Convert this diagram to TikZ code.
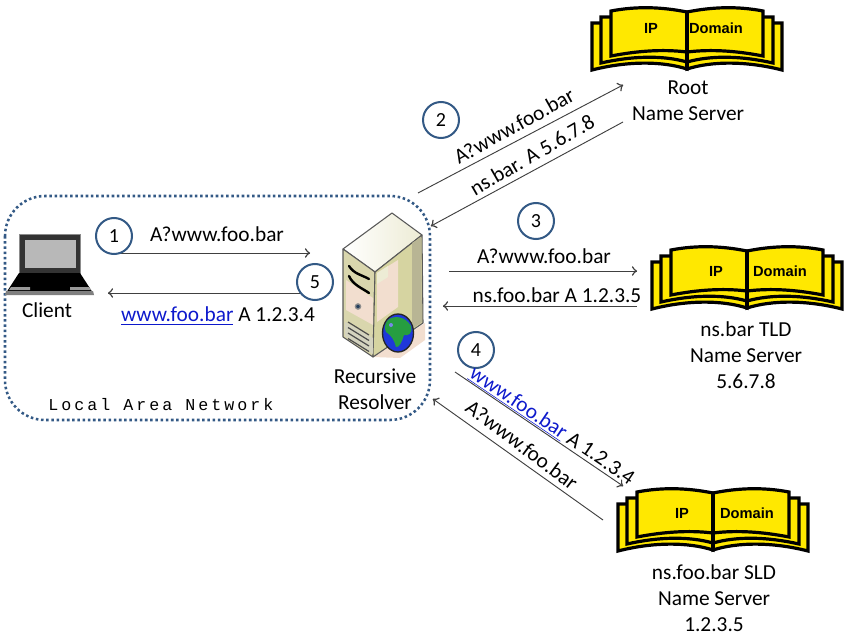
\documentclass[tikz,border=0pt]{standalone}
\usepackage{fontspec}
\setmainfont{Carlito}
\setmonofont{Liberation Mono}
\setsansfont{Liberation Sans}
\usetikzlibrary{arrows}
\usetikzlibrary{decorations.markings}
\tikzset{->/.style = {decoration={markings,
                                  mark=at position 1 with {\arrow[scale=1.6]{to}}},
                      postaction={decorate}}}
\definecolor{mnavy}{rgb}{0.2, 0.35, 0.52}
\definecolor{mlink}{rgb}{0.05, 0.1, 0.8}
\definecolor{myellow}{rgb}{1, 0.91, 0}
\definecolor{mcream}{rgb}{0.85, 0.84, 0.68}
\definecolor{mpink}{rgb}{0.95, 0.87, 0.81}
\definecolor{molive}{rgb}{0.84, 0.83, 0.63}
\definecolor{mgrey}{rgb}{0.72, 0.71, 0.58}
\definecolor{mglobe}{rgb}{0.12, 0.22, 0.85}
\definecolor{mland}{rgb}{0.15, 0.62, 0.25}
\tikzset{caption/.style = {align=center, font=\fontsize{16}{19.5}\selectfont}}
\tikzset{msg/.style = {font=\fontsize{16}{19}\selectfont}}
\tikzset{flow/.style = {draw=black!75, line width=0.7pt}}
\tikzset{stepmark/.style = {circle, draw=mnavy, fill=white, line width=1.5pt, minimum size=27pt, inner sep=0pt, font=\fontsize{15}{18}\selectfont}}
\tikzset{leaf/.style = {draw=black, fill=myellow, line width=2.4pt}}
\tikzset{booktext/.style = {font=\fontsize{11}{12}\selectfont\sffamily\bfseries}}
\tikzset{shell/.style = {draw=black!65, line width=0.8pt, line join=round}}
\tikzset{book/.pic = {
    \foreach \s in {-1, 1} {
      \begin{scope}[xscale=\s]
        \filldraw [leaf] (0, 0) .. controls (-25, -8) and (-60, -8) .. (-95, 1) -- (-95, -46) -- (0, -46) -- cycle;
        \filldraw [leaf] (0, -7) .. controls (-25, -14) and (-55, -13) .. (-86, -6) -- (-86, -52) -- (0, -52) -- cycle;
        \filldraw [leaf] (0, -17) .. controls (-25, -20) and (-50, -18) .. (-76, -13) -- (-76, -58) .. controls (-50, -63) and (-25, -62) .. (0, -57) -- cycle;
      \end{scope}
    }
    \draw [black, line width=2.6pt] (0, -58) -- (0, 0);
  }}

\begin{document}
\begin{tikzpicture}[x=0.75pt, y=-0.75pt]
      \useasboundingbox (0, 0) rectangle (850, 638);

      \draw [mnavy, line width=1.9pt, dotted, rounded corners=30pt] (5, 196) rectangle (430, 420);
      \node [font=\fontsize{12.5}{14}\selectfont\ttfamily, inner sep=0pt] (lan) at (161, 405) {\addfontfeature{LetterSpace=18}Local Area Network};

      % laptop
      \filldraw [fill=black!80, draw=black!45, line width=0.6pt] (19, 234) -- (80, 234) -- (80, 273) -- (19, 273) -- cycle;
      \fill [black!28] (25, 240) rectangle (76, 268);
      \fill [black] (19, 273) -- (80, 273) -- (93, 293) -- (6, 293) -- cycle;
      \fill [black!50] (6, 291) -- (93, 291) -- (94, 295) -- (5, 295) -- cycle;
      \fill [black!40] (11, 287) -- (30, 287) -- (30, 290) -- (9, 290) -- cycle;
      \fill [black!40] (70, 287) -- (89, 287) -- (91, 290) -- (70, 290) -- cycle;
      \node [caption] (client) at (47, 310) {Client};

      % server
      \fill [mpink] (373, 357) -- (425, 323) -- (425, 340) -- (400, 358) -- cycle;
      \shade [shell, left color=white, right color=molive!45] (343, 249) -- (392, 213) -- (422, 235) -- (375, 272) -- cycle;
      \filldraw [shell, fill=mcream] (343, 249) -- (375, 272) -- (373, 357) -- (343, 337) -- cycle;
      \filldraw [shell, fill=molive] (375, 272) -- (422, 235) -- (423, 323) -- (373, 357) -- cycle;
      \fill [mpink] (377, 273) -- (398, 260) -- (398, 307) -- (377, 322) -- cycle;
      \fill [molive!45] (377, 273) -- (388, 266) -- (388, 277) -- (377, 284) -- cycle;
      \fill [mgrey] (412, 243) -- (421, 237) -- (422, 322) -- (412, 329) -- cycle;
      \fill [mpink] (346, 280) -- (373, 298) -- (373, 325) -- (346, 310) -- cycle;
      \fill [mgrey!60] (345, 322) -- (373, 338) -- (373, 354) -- (345, 336) -- cycle;
      \draw [black, line width=1.8pt, line cap=round] (349, 266) .. controls (354, 274) and (362, 275) .. (369, 279);
      \draw [black, line width=1.8pt, line cap=round] (349, 276) .. controls (353, 285) and (362, 288) .. (369, 293);
      \filldraw [fill=mnavy!70!black, draw=black!45, line width=1pt] (358, 306.5) circle (2.6);
      \foreach \k in {0, 1, 2, 3} {
        \draw [black!70, line width=0.9pt] (348, 322 + 5.5 * \k) -- (369, 335 + 5.5 * \k);
      }
      \filldraw [fill=mglobe, draw=black!85, line width=1pt] (398, 333) ellipse (15.5 and 19);
      \fill [mland] (388, 320) .. controls (394, 315) and (405, 316) .. (411, 326) .. controls (413, 334) and (408, 336) .. (404, 335) .. controls (402, 342) and (399, 348) .. (396, 347) .. controls (394, 340) and (392, 336) .. (386, 332) .. controls (384, 328) and (385, 323) .. (388, 320);
      \fill [mglobe!60!white] (391, 325) circle (2);
      \node [caption] (resolver) at (375, 389) {Recursive\\Resolver};

      % name servers
      \pic (root) at (687, 69) {book};
      \node [booktext] (rootip) at (651, 28) {IP};
      \node [booktext] (rootdomain) at (716, 28) {Domain};
      \node [caption] (rootname) at (688, 101) {Root\\Name Server};
      \pic (tld) at (747, 308) {book};
      \node [booktext] (tldip) at (716, 271) {IP};
      \node [booktext] (tlddomain) at (780, 271) {Domain};
      \node [caption] (tldname) at (746, 355) {ns.bar TLD\\Name Server\\5.6.7.8};
      \pic (sld) at (713, 550) {book};
      \node [booktext] (sldip) at (682, 513) {IP};
      \node [booktext] (slddomain) at (747, 513) {Domain};
      \node [caption] (sldname) at (714, 598) {ns.foo.bar SLD\\Name Server\\1.2.3.5};

      % arrow ends
      \coordinate (a1) at (120, 253);
      \coordinate (b1) at (310, 253);
      \coordinate (a5) at (316, 293);
      \coordinate (b5) at (108, 293);
      \coordinate (a2) at (418, 193);
      \coordinate (b2) at (623, 85);
      \coordinate (c2) at (623, 122);
      \coordinate (d2) at (431, 226);
      \coordinate (a3) at (449, 271);
      \coordinate (b3) at (637, 271);
      \coordinate (c3) at (637, 306);
      \coordinate (d3) at (443, 306);
      \coordinate (a4) at (455, 372);
      \coordinate (b4) at (623, 486);
      \coordinate (c4) at (603, 520);
      \coordinate (d4) at (433, 399);

      \draw [flow, ->] (a1) -- (b1);
      \draw [flow, ->] (a5) -- (b5);
      \draw [flow, ->] (a2) -- (b2);
      \draw [flow, ->] (c2) -- (d2);
      \draw [flow, ->] (a3) -- (b3);
      \draw [flow, ->] (c3) -- (d3);
      \draw [flow, ->] (a4) -- (b4);
      \draw [flow, ->] (c4) -- (d4);

      \node [stepmark] (one) at (114, 236) {1};
      \node [stepmark] (two) at (441, 120) {2};
      \node [stepmark] (three) at (536, 221) {3};
      \node [stepmark] (four) at (476, 350) {4};
      \node [stepmark] (five) at (315, 282) {5};

      \node [msg] (q1) at (217, 234) {A?www.foo.bar};
      \node [msg] (r1) at (218, 316) {\textcolor{mlink}{\underline{www.foo.bar}} A 1.2.3.4};
      \node [msg, rotate=29] (q2) at (514, 126) {A?www.foo.bar};
      \node [msg, rotate=30] (r2) at (532, 155) {ns.bar. A 5.6.7.8};
      \node [msg] (q3) at (544, 256) {A?www.foo.bar};
      \node [msg] (r3) at (557, 295) {ns.foo.bar A 1.2.3.5};
      \node [msg, rotate=-34] (r4) at (552, 426) {\textcolor{mlink}{\underline{www.foo.bar}} A 1.2.3.4};
      \node [msg, rotate=-37] (q4) at (522, 445) {A?www.foo.bar};
    \end{tikzpicture}
\end{document}
